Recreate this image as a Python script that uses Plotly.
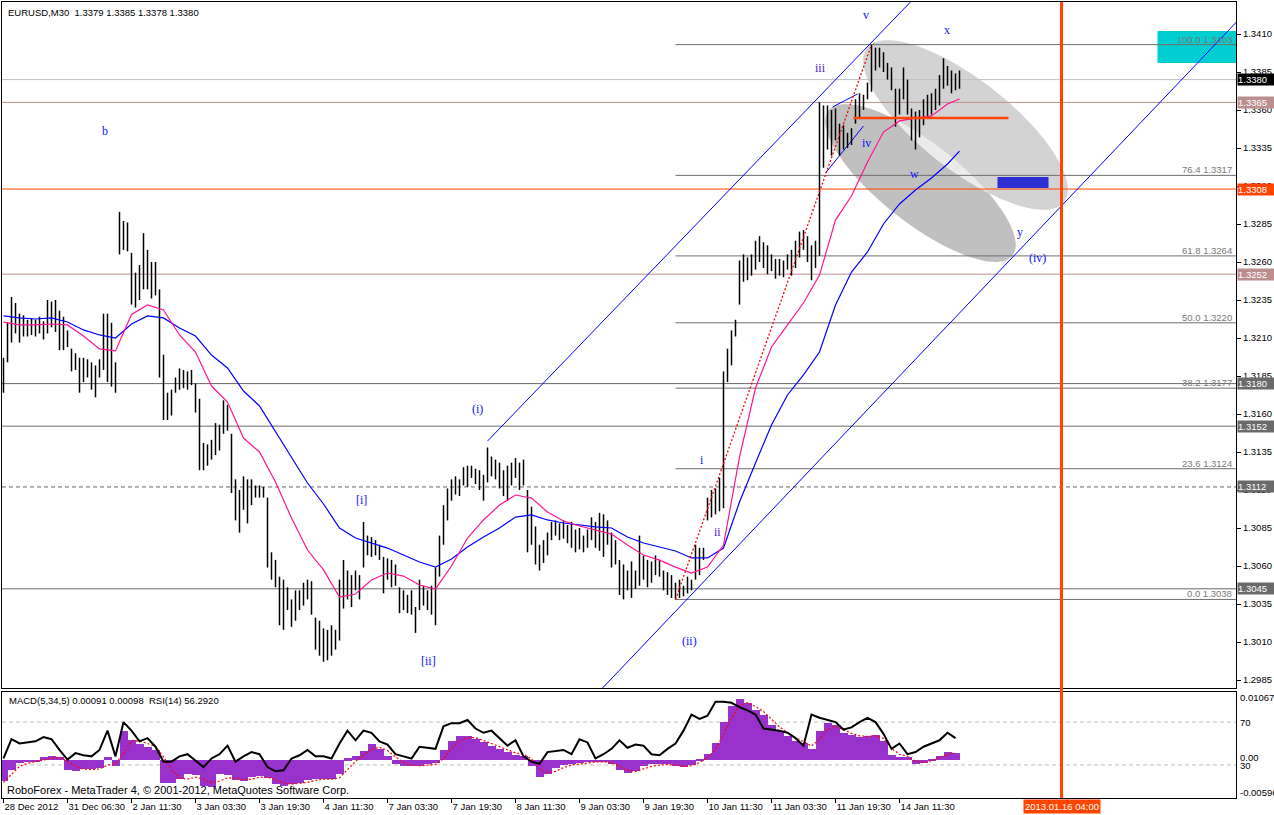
import math
import plotly.graph_objects as go

W, H = 1274, 815

# ---------------- data ----------------
# time slots are M30 bar numbers counted from 28 Dec 2012 (one plotted bar = 1 hour)
bar_slot = list(range(0, 480, 2))
bar_high = [
    1.3197, 1.3220, 1.3237, 1.3233, 1.3226, 1.3225, 1.3222, 1.3223, 1.3222, 1.3224,
    1.3221, 1.3235, 1.3234, 1.3235, 1.3228, 1.3224, 1.3215, 1.3203, 1.3200, 1.3197,
    1.3197, 1.3196, 1.3194, 1.3192, 1.3196, 1.3226, 1.3226, 1.3220, 1.3194, 1.3293,
    1.3287, 1.3286, 1.3266, 1.3253, 1.3258, 1.3279, 1.3268, 1.3260, 1.3260, 1.3242,
    1.3199, 1.3174, 1.3176, 1.3184, 1.3190, 1.3189, 1.3188, 1.3189, 1.3180, 1.3170,
    1.3141, 1.3140, 1.3143, 1.3154, 1.3153, 1.3169, 1.3166, 1.3147, 1.3117, 1.3110,
    1.3119, 1.3117, 1.3117, 1.3113, 1.3113, 1.3112, 1.3105, 1.3069, 1.3064, 1.3053,
    1.3051, 1.3046, 1.3038, 1.3044, 1.3044, 1.3049, 1.3051, 1.3050, 1.3026, 1.3024,
    1.3019, 1.3018, 1.3021, 1.3018, 1.3051, 1.3064, 1.3057, 1.3054, 1.3057, 1.3054,
    1.3089, 1.3080, 1.3079, 1.3077, 1.3074, 1.3066, 1.3065, 1.3064, 1.3061, 1.3046,
    1.3044, 1.3041, 1.3044, 1.3033, 1.3051, 1.3047, 1.3044, 1.3047, 1.3059, 1.3080,
    1.3100, 1.3111, 1.3117, 1.3119, 1.3117, 1.3125, 1.3126, 1.3126, 1.3124, 1.3123,
    1.3120, 1.3138, 1.3132, 1.3130, 1.3128, 1.3123, 1.3126, 1.3128, 1.3131, 1.3128,
    1.3130, 1.3110, 1.3099, 1.3086, 1.3074, 1.3077, 1.3082, 1.3089, 1.3090, 1.3088,
    1.3090, 1.3087, 1.3089, 1.3084, 1.3085, 1.3080, 1.3084, 1.3092, 1.3089, 1.3095,
    1.3094, 1.3090, 1.3082, 1.3077, 1.3064, 1.3061, 1.3057, 1.3063, 1.3057, 1.3080,
    1.3067, 1.3064, 1.3063, 1.3067, 1.3064, 1.3057, 1.3056, 1.3054, 1.3049, 1.3051,
    1.3047, 1.3053, 1.3051, 1.3074, 1.3072, 1.3072, 1.3105, 1.3110, 1.3111, 1.3118,
    1.3188, 1.3203, 1.3215, 1.3222, 1.3261, 1.3265, 1.3263, 1.3265, 1.3274, 1.3277,
    1.3273, 1.3271, 1.3265, 1.3262, 1.3262, 1.3261, 1.3265, 1.3268, 1.3274, 1.3280,
    1.3281, 1.3277, 1.3271, 1.3274, 1.3365, 1.3363, 1.3363, 1.3360, 1.3361, 1.3351,
    1.3350, 1.3345, 1.3348, 1.3367, 1.3371, 1.3370, 1.3378, 1.3403, 1.3401, 1.3401,
    1.3398, 1.3391, 1.3388, 1.3374, 1.3374, 1.3388, 1.3380, 1.3361, 1.3359, 1.3360,
    1.3367, 1.3370, 1.3371, 1.3374, 1.3383, 1.3394, 1.3389, 1.3386, 1.3384, 1.3386,
]
bar_low = [
    1.3174, 1.3194, 1.3207, 1.3213, 1.3207, 1.3211, 1.3211, 1.3212, 1.3211, 1.3213,
    1.3209, 1.3213, 1.3217, 1.3214, 1.3202, 1.3202, 1.3204, 1.3188, 1.3189, 1.3174,
    1.3181, 1.3184, 1.3176, 1.3171, 1.3184, 1.3189, 1.3181, 1.3178, 1.3174, 1.3265,
    1.3268, 1.3267, 1.3232, 1.3230, 1.3235, 1.3242, 1.3242, 1.3236, 1.3238, 1.3184,
    1.3156, 1.3156, 1.3159, 1.3174, 1.3176, 1.3177, 1.3176, 1.3179, 1.3161, 1.3123,
    1.3123, 1.3126, 1.3130, 1.3133, 1.3136, 1.3147, 1.3149, 1.3108, 1.3090, 1.3082,
    1.3097, 1.3088, 1.3100, 1.3105, 1.3105, 1.3105, 1.3059, 1.3051, 1.3046, 1.3021,
    1.3018, 1.3031, 1.3020, 1.3024, 1.3031, 1.3034, 1.3038, 1.3028, 1.3005, 1.3001,
    1.2997, 1.2998, 1.3001, 1.3005, 1.3011, 1.3032, 1.3038, 1.3033, 1.3044, 1.3038,
    1.3059, 1.3067, 1.3066, 1.3067, 1.3064, 1.3042, 1.3051, 1.3046, 1.3047, 1.3029,
    1.3031, 1.3029, 1.3028, 1.3016, 1.3031, 1.3034, 1.3031, 1.3028, 1.3021, 1.3053,
    1.3074, 1.3090, 1.3103, 1.3107, 1.3106, 1.3113, 1.3112, 1.3118, 1.3114, 1.3110,
    1.3103, 1.3115, 1.3119, 1.3117, 1.3111, 1.3106, 1.3103, 1.3113, 1.3118, 1.3110,
    1.3113, 1.3069, 1.3074, 1.3061, 1.3057, 1.3062, 1.3067, 1.3077, 1.3080, 1.3077,
    1.3078, 1.3075, 1.3072, 1.3069, 1.3071, 1.3069, 1.3072, 1.3077, 1.3072, 1.3070,
    1.3066, 1.3074, 1.3059, 1.3061, 1.3041, 1.3038, 1.3044, 1.3039, 1.3045, 1.3047,
    1.3051, 1.3046, 1.3049, 1.3054, 1.3053, 1.3044, 1.3041, 1.3039, 1.3038, 1.3039,
    1.3040, 1.3042, 1.3044, 1.3051, 1.3054, 1.3064, 1.3090, 1.3092, 1.3094, 1.3096,
    1.3098, 1.3181, 1.3192, 1.3211, 1.3232, 1.3247, 1.3248, 1.3251, 1.3255, 1.3260,
    1.3256, 1.3252, 1.3254, 1.3249, 1.3251, 1.3250, 1.3255, 1.3251, 1.3256, 1.3263,
    1.3268, 1.3260, 1.3248, 1.3256, 1.3264, 1.3322, 1.3334, 1.3330, 1.3340, 1.3330,
    1.3334, 1.3335, 1.3337, 1.3351, 1.3355, 1.3360, 1.3367, 1.3372, 1.3386, 1.3388,
    1.3385, 1.3380, 1.3373, 1.3349, 1.3357, 1.3367, 1.3357, 1.3340, 1.3334, 1.3342,
    1.3350, 1.3355, 1.3357, 1.3360, 1.3363, 1.3374, 1.3376, 1.3371, 1.3373, 1.3374,
]

ma_slot = [0, 8, 16, 24, 32, 40, 48, 56, 64, 72, 80, 88, 96, 104, 112, 120, 128, 136, 144, 152,
           160, 168, 176, 184, 192, 200, 208, 216, 224, 232, 240, 248, 256, 264, 272, 280, 288, 296,
           304, 312, 320, 328, 336, 344, 352, 360, 368, 376, 384, 392, 400, 408, 416, 424, 432, 440,
           448, 456, 464, 472, 478]
ma_fast = [
    1.32205, 1.32186, 1.32186, 1.32192, 1.32186, 1.32113, 1.32028, 1.32015, 1.32255, 1.32317,
    1.32284, 1.32120, 1.32008, 1.31784, 1.31679, 1.31442, 1.31350, 1.31153, 1.30916, 1.30705,
    1.30574, 1.30396, 1.30416, 1.30508, 1.30554, 1.30534, 1.30475, 1.30449, 1.30600, 1.30784,
    1.30903, 1.31001, 1.31067, 1.31047, 1.30955, 1.30896, 1.30863, 1.30837, 1.30810, 1.30738,
    1.30672, 1.30639, 1.30593, 1.30554, 1.30593, 1.30738, 1.31317, 1.31771, 1.32041, 1.32186,
    1.32330, 1.32514, 1.32876, 1.33034, 1.33258, 1.33455, 1.33528, 1.33547, 1.33561, 1.33640,
    1.33672,
]
ma_slow = [
    1.32245, 1.32232, 1.32225, 1.32232, 1.32205, 1.32153, 1.32120, 1.32100, 1.32192, 1.32245,
    1.32232, 1.32166, 1.32113, 1.31988, 1.31903, 1.31751, 1.31653, 1.31482, 1.31311, 1.31146,
    1.31008, 1.30850, 1.30784, 1.30751, 1.30718, 1.30672, 1.30626, 1.30593, 1.30646, 1.30725,
    1.30791, 1.30850, 1.30922, 1.30936, 1.30903, 1.30883, 1.30870, 1.30857, 1.30850, 1.30791,
    1.30751, 1.30725, 1.30699, 1.30653, 1.30653, 1.30718, 1.31021, 1.31278, 1.31528, 1.31725,
    1.31857, 1.32008, 1.32317, 1.32534, 1.32666, 1.32850, 1.32982, 1.33074, 1.33153, 1.33245,
    1.33330,
]

osc_slot = list(range(0, 480, 4))
macd_hist = [
    -0.0033, -0.0015, -0.0004, -0.0003, -0.0002, 0.0004, 0.0006, 0.0004, -0.0015, -0.0017,
    -0.0014, -0.0014, -0.0012, 0.0004, -0.0010, 0.0045, 0.0032, 0.0025, 0.0020, 0.0015,
    -0.0036, -0.0036, -0.0030, -0.0022, -0.0024, -0.0040, -0.0042, -0.0022, -0.0024, -0.0032,
    -0.0033, -0.0026, -0.0025, -0.0028, -0.0038, -0.0040, -0.0037, -0.0036, -0.0032, -0.0030,
    -0.0029, -0.0030, -0.0022, 0.0003, 0.0006, 0.0014, 0.0025, 0.0018, 0.0006, -0.0006,
    -0.0010, -0.0010, -0.0009, -0.0007, -0.0005, 0.0015, 0.0030, 0.0038, 0.0037, 0.0033,
    0.0028, 0.0022, 0.0018, 0.0012, 0.0008, 0.0007, -0.0010, -0.0026, -0.0022, -0.0012,
    -0.0008, -0.0006, -0.0005, -0.0003, -0.0002, -0.0003, -0.0006, -0.0015, -0.0020, -0.0018,
    -0.0010, -0.0007, -0.0006, -0.0007, -0.0010, -0.0011, -0.0008, 0.0002, 0.0010, 0.0026,
    0.0060, 0.0085, 0.0095, 0.0090, 0.0078, 0.0070, 0.0055, 0.0045, 0.0038, 0.0030,
    0.0026, 0.0018, 0.0045, 0.0058, 0.0055, 0.0042, 0.0040, 0.0036, 0.0038, 0.0040,
    0.0030, 0.0008, 0.0005, 0.0004, -0.0006, -0.0004, 0.0001, 0.0006, 0.0012, 0.0011,
]
macd_signal = [
    -0.0035, -0.0022, -0.0010, -0.0005, -0.0003, 0.0000, 0.0003, 0.0004, -0.0002, -0.0010,
    -0.0014, -0.0015, -0.0014, -0.0008, -0.0006, 0.0010, 0.0030, 0.0030, 0.0026, 0.0021,
    0.0005, -0.0015, -0.0028, -0.0030, -0.0027, -0.0030, -0.0036, -0.0033, -0.0028, -0.0028,
    -0.0031, -0.0030, -0.0027, -0.0027, -0.0031, -0.0036, -0.0038, -0.0037, -0.0035, -0.0032,
    -0.0030, -0.0030, -0.0028, -0.0015, -0.0002, 0.0008, 0.0017, 0.0020, 0.0015, 0.0005,
    -0.0004, -0.0008, -0.0009, -0.0008, -0.0007, 0.0002, 0.0018, 0.0030, 0.0035, 0.0035,
    0.0031, 0.0026, 0.0021, 0.0016, 0.0011, 0.0009, 0.0002, -0.0014, -0.0020, -0.0018,
    -0.0012, -0.0008, -0.0006, -0.0004, -0.0003, -0.0003, -0.0004, -0.0010, -0.0016, -0.0018,
    -0.0014, -0.0010, -0.0008, -0.0007, -0.0008, -0.0010, -0.0009, -0.0004, 0.0004, 0.0016,
    0.0040, 0.0066, 0.0085, 0.0090, 0.0084, 0.0076, 0.0064, 0.0052, 0.0043, 0.0035,
    0.0029, 0.0022, 0.0032, 0.0048, 0.0053, 0.0047, 0.0042, 0.0038, 0.0037, 0.0038,
    0.0034, 0.0018, 0.0009, 0.0006, -0.0002, -0.0004, -0.0001, 0.0004, 0.0009, 0.0011,
]
rsi_values = [
    36, 54, 50, 51, 52, 56, 54, 44, 35, 41,
    39, 38, 44, 62, 38, 70, 62, 52, 55, 47,
    33, 33, 38, 40, 34, 28, 36, 40, 48, 33,
    38, 42, 40, 28, 24, 25, 36, 39, 44, 38,
    38, 36, 50, 62, 53, 62, 60, 52, 49, 40,
    38, 36, 47, 46, 45, 66, 69, 69, 72, 64,
    60, 62, 55, 48, 53, 38, 33, 31, 42, 43,
    44, 40, 54, 51, 36, 40, 45, 53, 46, 49,
    48, 40, 39, 45, 50, 62, 77, 73, 76, 89,
    89, 88, 84, 81, 77, 64, 63, 62, 60, 55,
    48, 77, 74, 72, 70, 63, 65, 70, 74, 70,
    59, 45, 50, 40, 42, 47, 50, 53, 60, 55,
]

time_tick_slots = [0, 32, 64, 96, 128, 160, 192, 224, 256, 288, 320, 352, 384, 416, 448]
time_tick_labels = ["28 Dec 2012", "31 Dec 06:30", "2 Jan 11:30", "3 Jan 03:30", "3 Jan 19:30",
                    "4 Jan 11:30", "7 Jan 03:30", "7 Jan 19:30", "8 Jan 11:30", "9 Jan 03:30",
                    "9 Jan 19:30", "10 Jan 11:30", "11 Jan 03:30", "11 Jan 19:30", "14 Jan 11:30"]

price_ticks = [1.2985, 1.3010, 1.3035, 1.3060, 1.3085, 1.3110, 1.3135, 1.3160, 1.3185,
               1.3210, 1.3235, 1.3260, 1.3285, 1.3310, 1.3335, 1.3360, 1.3385, 1.3410]

hline_prices = [1.3380, 1.3365, 1.3308, 1.3252, 1.3180, 1.3152, 1.3112, 1.3045]
hline_colors = ["#c0c0c0", "#bc8f8f", "#ff4500", "#bc8f8f", "#696969", "#696969", "#696969", "#696969"]
hline_dash = ["solid", "solid", "solid", "solid", "solid", "solid", "4px,3px", "solid"]
tag_colors = ["#000000", "#bc8f8f", "#ff4500", "#bc8f8f", "#6a6a6a", "#6a6a6a", "#6a6a6a", "#6a6a6a"]

fib_ratios = ["100.0", "76.4", "61.8", "50.0", "38.2", "23.6", "0.0"]
fib_prices = [1.3403, 1.3317, 1.3264, 1.3220, 1.3177, 1.3124, 1.3038]
fib_start_slot = 336

wave_labels = ["b", "v", "x", "iii", "iv", "w", "y", "(iv)", "(i)", "[i]", "[ii]", "(ii)", "i", "ii"]
wave_slots = [50.5, 431, 471.5, 408.5, 431.5, 455.5, 508, 517, 237, 179, 212.5, 343, 349, 357]
wave_prices = [1.33462, 1.34225, 1.34126, 1.33876, 1.33383, 1.33179, 1.32797, 1.32626,
               1.31633, 1.31034, 1.29975, 1.30107, 1.31297, 1.30824]
wave_colors = ["#1010ff"] * 3 + ["#5020c8"] + ["#1010ff"] * 9 + ["#5020c8"]

# drawn objects (anchor points: slot, price)
upper_channel = [(242, 1.31422), (453.5, 1.34311)]
lower_channel = [(299.5, 1.29797), (616.5, 1.34179)]
small_line_a = [(411, 1.331855), (430, 1.334947)]
small_line_b = [(414.5, 1.336197), (427, 1.337053)]
zigzag_slot = [336, 434]
zigzag_price = [1.3038, 1.3403]
target_line = [(425, 1.33547), (502.5, 1.33547)]
cyan_box = [(577, 1.33909), (625, 1.34120)]
blue_box = [(497, 1.33087), (522.5, 1.33159)]
future_slot = 529
ellipse_light = [(431.75, 1.34008), (530.25, 1.32995), 0.36]
ellipse_dark = [(412.5, 1.33596), (504.5, 1.32643), 0.34]

# ---------------- geometry ----------------
X_RANGE = [-0.75, 616.25]
P_RANGE = [1.297974, 1.343105]
MACD_RANGE = [-0.00596, 0.01067]
RSI_RANGE = [-0.9, 98.1]

def py(px):
    return (H - px) / H

def pxx(px):
    return px / W

XD = [pxx(2), pxx(1236)]
MAIN_D = [py(688), py(2)]
SUB_D = [py(798), py(692)]

FONT = "Liberation Sans"

fig = go.Figure()

# price bars
bx, byy = [], []
for s, hi, lo in zip(bar_slot, bar_high, bar_low):
    bx += [s, s, None]
    byy += [lo, hi, None]
fig.add_trace(go.Scatter(x=bx, y=byy, mode="lines", line=dict(color="black", width=1.5),
                         hoverinfo="skip", xaxis="x", yaxis="y"))
fig.add_trace(go.Scatter(x=ma_slot, y=ma_slow, mode="lines", line=dict(color="#0000ff", width=1.2),
                         hoverinfo="skip", xaxis="x", yaxis="y"))
fig.add_trace(go.Scatter(x=ma_slot, y=ma_fast, mode="lines", line=dict(color="#ff1493", width=1.2),
                         hoverinfo="skip", xaxis="x", yaxis="y"))
fig.add_trace(go.Scatter(x=zigzag_slot, y=zigzag_price, mode="lines",
                         line=dict(color="#ff0000", width=1.3, dash="2px,2px"),
                         hoverinfo="skip", xaxis="x", yaxis="y"))

# sub window
fig.add_trace(go.Bar(x=osc_slot, y=macd_hist, width=4, marker=dict(color="#9932cc", line=dict(width=0)),
                     hoverinfo="skip", xaxis="x2", yaxis="y2"))
fig.add_trace(go.Scatter(x=osc_slot, y=macd_signal, mode="lines",
                         line=dict(color="#ff0000", width=1.2, dash="2px,2px"),
                         hoverinfo="skip", xaxis="x2", yaxis="y2"))
fig.add_trace(go.Scatter(x=osc_slot, y=rsi_values, mode="lines", line=dict(color="black", width=2),
                         hoverinfo="skip", xaxis="x2", yaxis="y3"))

# ---------------- shapes ----------------
SX, SY = 2.0, 15200.0

def ell_geom(p1, p2, ratio):
    x1, y1 = p1[0] * SX, p1[1] * SY
    x2, y2 = p2[0] * SX, p2[1] * SY
    a = math.hypot(x2 - x1, y2 - y1) / 2
    return ((x1 + x2) / 2, (y1 + y2) / 2, a, a * ratio, math.atan2(y2 - y1, x2 - x1))

def ell_pts(g, n=180):
    cx, cy, a, b, ang = g
    ca, sa = math.cos(ang), math.sin(ang)
    out = []
    for k in range(n):
        t = 2 * math.pi * k / n
        u, v = a * math.cos(t), b * math.sin(t)
        out.append((cx + u * ca - v * sa, cy + u * sa + v * ca))
    return out

def ell_inside(g, p):
    cx, cy, a, b, ang = g
    dx, dy = p[0] - cx, p[1] - cy
    ca, sa = math.cos(ang), math.sin(ang)
    u = dx * ca + dy * sa
    v = -dx * sa + dy * ca
    return (u / a) ** 2 + (v / b) ** 2 <= 1.0

def to_path(pts):
    return "M " + " L ".join(f"{x / SX:.4f},{y / SY:.7f}" for x, y in pts) + " Z"

g_light = ell_geom(*ellipse_light)
g_dark = ell_geom(*ellipse_dark)
pl, pd = ell_pts(g_light), ell_pts(g_dark)
inter = [p for p in pl if ell_inside(g_dark, p)] + [p for p in pd if ell_inside(g_light, p)]

shapes = []
shapes.append(dict(type="path", path=to_path(pd), xref="x", yref="y", fillcolor="#c0c0c0",
                   line=dict(width=0), layer="below"))
shapes.append(dict(type="path", path=to_path(pl), xref="x", yref="y", fillcolor="#d3d3d3",
                   line=dict(width=0), layer="below"))
if len(inter) > 2:
    mx = sum(p[0] for p in inter) / len(inter)
    my = sum(p[1] for p in inter) / len(inter)
    inter.sort(key=lambda p: math.atan2(p[1] - my, p[0] - mx))
    shapes.append(dict(type="path", path=to_path(inter), xref="x", yref="y", fillcolor="#ebebeb",
                       line=dict(width=0), layer="below"))

shapes.append(dict(type="rect", xref="x", yref="y", x0=cyan_box[0][0], x1=cyan_box[1][0],
                   y0=cyan_box[0][1], y1=cyan_box[1][1], fillcolor="#00ced1", line=dict(width=0), layer="below"))
shapes.append(dict(type="rect", xref="x", yref="y", x0=blue_box[0][0], x1=blue_box[1][0],
                   y0=blue_box[0][1], y1=blue_box[1][1], fillcolor="#2e2ed2", line=dict(width=0), layer="below"))

for p, c, d in zip(hline_prices, hline_colors, hline_dash):
    shapes.append(dict(type="line", xref="x", yref="y", x0=X_RANGE[0], x1=X_RANGE[1], y0=p, y1=p,
                       line=dict(color=c, width=1, dash=d), layer="below"))
for p in fib_prices:
    shapes.append(dict(type="line", xref="x", yref="y", x0=fib_start_slot, x1=X_RANGE[1], y0=p, y1=p,
                       line=dict(color="#6e6e6e", width=1), layer="below"))

for seg in (upper_channel, lower_channel, small_line_a, small_line_b):
    shapes.append(dict(type="line", xref="x", yref="y", x0=seg[0][0], y0=seg[0][1], x1=seg[1][0],
                       y1=seg[1][1], line=dict(color="#0000ff", width=1), layer="below"))

shapes.append(dict(type="line", xref="x", yref="y", x0=target_line[0][0], x1=target_line[1][0],
                   y0=target_line[0][1], y1=target_line[1][1], line=dict(color="#ff4500", width=2.5),
                   layer="above"))

for lvl in (70, 30):
    shapes.append(dict(type="line", xref="x2", yref="y3", x0=X_RANGE[0], x1=X_RANGE[1], y0=lvl, y1=lvl,
                       line=dict(color="#c0c0c0", width=1, dash="4px,3px"), layer="below"))

shapes.append(dict(type="line", xref="x", yref="paper", x0=future_slot, x1=future_slot,
                   y0=SUB_D[0], y1=MAIN_D[1], line=dict(color="#ff4500", width=3), layer="above"))

# ---------------- annotations ----------------
ann = []

def txt(x, y, s, size=9.5, color="black", xanchor="left", family=FONT, **kw):
    d = dict(x=x, y=y, text=s, showarrow=False, xanchor=xanchor, yanchor="middle",
             font=dict(family=family, size=size, color=color))
    d.update(kw)
    ann.append(d)

txt(pxx(6), py(12), "EURUSD,M30  1.3379 1.3385 1.3378 1.3380", xref="paper", yref="paper")
txt(pxx(7), py(700), "MACD(5,34,5) 0.00091 0.00098  RSI(14) 56.2920", xref="paper", yref="paper")
txt(pxx(5), py(790), "RoboForex - MetaTrader 4, © 2001-2012, MetaQuotes Software Corp.", size=11,
    xref="paper", yref="paper")

for r, p in zip(fib_ratios, fib_prices):
    ann.append(dict(x=pxx(1234), y=p, xref="paper", yref="y", text=f"{r} {p:.4f}", showarrow=False,
                    xanchor="right", yanchor="bottom", yshift=-2,
                    font=dict(family=FONT, size=9.5, color="#7a7a7a")))

for p, c in zip(hline_prices, tag_colors):
    ann.append(dict(x=pxx(1237), y=p, xref="paper", yref="y", text=f"{p:.4f}", showarrow=False,
                    xanchor="left", yanchor="middle", bgcolor=c, borderpad=0, width=36, align="left",
                    font=dict(family=FONT, size=9.5, color="#ffffff")))

for s, ypx in (("0.01067", 697), ("70", 722), ("0.00", 757), ("30", 765), ("-0.00596", 792)):
    txt(pxx(1238), py(ypx), s, xref="paper", yref="paper")

for s, xs, ps, c in zip(wave_labels, wave_slots, wave_prices, wave_colors):
    ann.append(dict(x=xs, y=ps, xref="x", yref="y", text=s, showarrow=False, xanchor="center",
                    yanchor="middle", font=dict(family="Liberation Serif", size=12, color=c)))

ann.append(dict(x=future_slot, y=py(806), xref="x2", yref="paper", text="2013.01.16 04:00",
                showarrow=False, xanchor="center", yanchor="middle", bgcolor="#ff4500", borderpad=1,
                font=dict(family=FONT, size=9.5, color="#ffffff")))

axis_common = dict(showgrid=False, zeroline=False, showline=True, linecolor="black", linewidth=1,
                   mirror=True)

fig.update_layout(
    width=W, height=H, autosize=False,
    margin=dict(l=0, r=0, t=0, b=0, pad=0),
    paper_bgcolor="white", plot_bgcolor="white",
    showlegend=False, hovermode=False, bargap=0,
    shapes=shapes, annotations=ann,
    xaxis=dict(domain=XD, range=X_RANGE, anchor="y", showticklabels=False, ticks="", **axis_common),
    yaxis=dict(domain=MAIN_D, range=P_RANGE, anchor="x", side="right",
               tickvals=price_ticks, ticktext=[f"{p:.4f}" for p in price_ticks],
               ticks="outside", ticklen=4, tickcolor="black",
               tickfont=dict(family=FONT, size=9.5, color="black"), automargin=False, **axis_common),
    xaxis2=dict(domain=XD, range=X_RANGE, anchor="y2", tickvals=time_tick_slots, ticktext=time_tick_labels,
                ticks="outside", ticklen=4, tickcolor="black", ticklabelposition="outside right",
                tickangle=0, ticklabelstandoff=0,
                tickfont=dict(family=FONT, size=9.5, color="black"), automargin=False, **axis_common),
    yaxis2=dict(domain=SUB_D, range=MACD_RANGE, anchor="x2", side="right", showticklabels=False,
                ticks="", automargin=False, **axis_common),
    yaxis3=dict(overlaying="y2", anchor="x2", range=RSI_RANGE, visible=False, showgrid=False,
                zeroline=False),
)

fig.write_html("out.html", config={"displayModeBar": False},
               post_script="document.body.style.margin='0';document.body.style.overflow='hidden';")
